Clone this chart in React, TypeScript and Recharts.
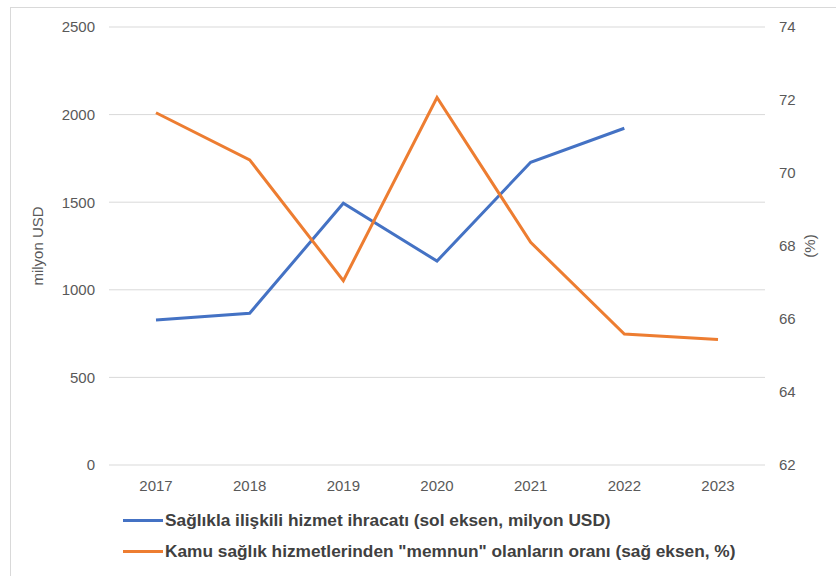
import React from 'react';
import { LineChart, Line, XAxis, YAxis, CartesianGrid } from 'recharts';

const years = ['2017', '2018', '2019', '2020', '2021', '2022', '2023'];
// sol eksen, milyon USD (2023 yok)
const healthExports = [828, 866, 1494, 1164, 1728, 1922, null];
// sağ eksen, %
const satisfiedShare = [71.65, 70.36, 67.05, 72.07, 68.1, 65.59, 65.44];

const leftTicks = [0, 500, 1000, 1500, 2000, 2500];
const rightTicks = [62, 64, 66, 68, 70, 72, 74];

const seriesInfo = [
  { key: 'exports', name: 'Sağlıkla ilişkili hizmet ihracatı (sol eksen, milyon USD)', color: '#4472C4', axis: 'left' },
  { key: 'satisfied', name: 'Kamu sağlık hizmetlerinden "memnun" olanların oranı (sağ eksen, %)', color: '#ED7D31', axis: 'right' },
];

const data = years.map((year, i) => ({
  year,
  exports: healthExports[i],
  satisfied: satisfiedShare[i],
}));

const FONT = '"Liberation Sans", Arial, Helvetica, sans-serif';
const tickStyle = { fontSize: 15, fill: '#595959', fontFamily: FONT };

export default function App() {
  return (
    <div
      style={{
        position: 'absolute',
        left: 0,
        top: 0,
        width: 836,
        height: 576,
        overflow: 'hidden',
        background: '#fff',
        fontFamily: FONT,
      }}
    >
      <div
        style={{
          position: 'absolute',
          left: 10,
          top: 7,
          width: 900,
          height: 700,
          border: '1px solid #d9d9d9',
        }}
      />
      <div style={{ position: 'absolute', left: 0, top: 0 }}>
        <LineChart width={836} height={576} data={data} margin={{ top: 27, right: 11, bottom: 81, left: 20 }}>
          <CartesianGrid yAxisId="left" vertical={false} stroke="#d9d9d9" strokeWidth={1} />
          <XAxis
            dataKey="year"
            axisLine={false}
            tickLine={false}
            tick={tickStyle}
            tickMargin={9}
            height={30}
            interval={0}
            padding={{ left: 47, right: 47 }}
          />
          <YAxis
            yAxisId="left"
            orientation="left"
            domain={[0, 2500]}
            ticks={leftTicks}
            axisLine={false}
            tickLine={false}
            tick={tickStyle}
            tickMargin={8}
            width={89}
            label={{
              value: 'milyon  USD',
              angle: -90,
              position: 'insideLeft',
              offset: 18,
              style: { textAnchor: 'middle', fontSize: 15, fill: '#595959', fontFamily: FONT },
            }}
          />
          <YAxis
            yAxisId="right"
            orientation="right"
            domain={[62, 74]}
            ticks={rightTicks}
            axisLine={false}
            tickLine={false}
            tick={tickStyle}
            tickMargin={8}
            width={60}
            label={{
              value: '(%)',
              angle: -90,
              position: 'insideRight',
              offset: 15,
              style: { textAnchor: 'middle', fontSize: 15, fill: '#595959', fontFamily: FONT },
            }}
          />
          {seriesInfo.map((s) => (
            <Line
              key={s.key}
              yAxisId={s.axis}
              dataKey={s.key}
              name={s.name}
              stroke={s.color}
              strokeWidth={3}
              dot={false}
              activeDot={false}
              type="linear"
              isAnimationActive={false}
            />
          ))}
        </LineChart>
      </div>
      <div style={{ position: 'absolute', left: 123, top: 505 }}>
        {seriesInfo.map((s) => (
          <div key={s.key} style={{ display: 'flex', alignItems: 'center', height: 31 }}>
            <div style={{ width: 40, height: 3, background: s.color, marginRight: 2 }} />
            <span style={{ fontSize: 17.3, fontWeight: 700, color: '#404040', whiteSpace: 'nowrap' }}>{s.name}</span>
          </div>
        ))}
      </div>
    </div>
  );
}
